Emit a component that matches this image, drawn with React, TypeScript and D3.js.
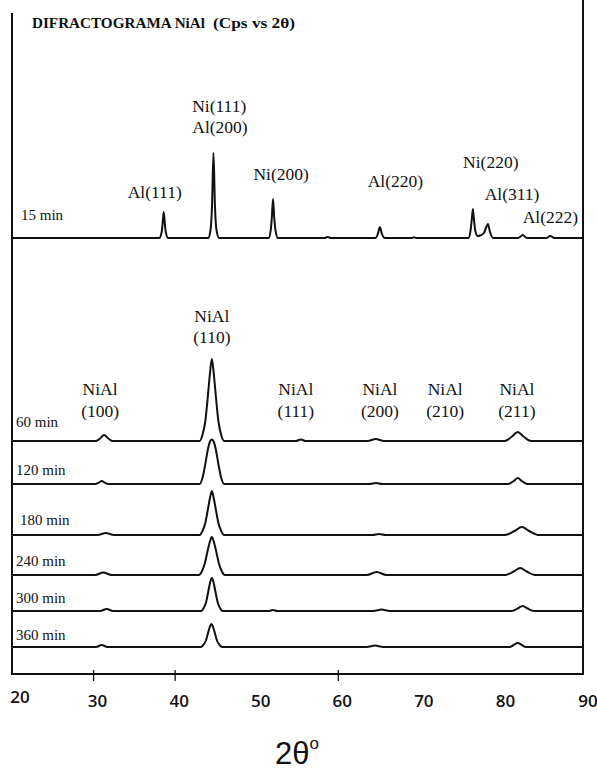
import React from 'react';
import * as d3 from 'd3';

// ---- data ----
const thetaDomain: [number, number] = [20, 90];
const tickLabels = [20, 30, 40, 50, 60, 70, 80, 90];
const tickMarks = [30, 40, 60];
const scanTimes = ['15 min', '60 min', '120 min', '180 min', '240 min', '300 min', '360 min'];

// intensities in Cps (arbitrary scale), [2θ, Cps]
const scan15: [number, number][] = [
  [20, 0], [38.05, 0], [38.35, 60], [38.47, 150], [38.6, 260], [38.73, 150], [38.85, 60], [39.15, 0],
  [44.05, 0], [44.35, 90], [44.52, 320], [44.7, 850], [44.88, 320], [45.05, 90], [45.4, 0],
  [51.45, 0], [51.72, 80], [51.85, 200], [52.0, 390], [52.15, 200], [52.3, 80], [52.6, 0],
  [58.3, 0], [58.7, 10], [59.1, 0],
  [64.55, 0], [64.85, 40], [65.1, 110], [65.35, 40], [65.7, 0],
  [69.0, 0], [69.3, 8], [69.6, 0],
  [75.95, 0], [76.22, 80], [76.36, 180], [76.5, 290], [76.64, 180], [76.8, 70], [77.1, 20], [77.4, 25],
  [77.85, 50], [78.1, 100], [78.35, 140], [78.6, 60], [79.0, 0],
  [82.0, 0], [82.35, 15], [82.6, 30], [82.85, 15], [83.2, 0],
  [85.5, 0], [86.0, 20], [86.5, 0],
  [90, 0],
];

const scan60: [number, number][] = [
  [20, 0], [30.3, 0], [30.8, 25], [31.3, 60], [31.8, 25], [32.3, 0],
  [43.0, 0], [43.35, 60], [43.7, 200], [44.0, 440], [44.25, 660], [44.5, 820], [44.75, 660], [45.0, 440], [45.3, 200], [45.65, 60], [46.0, 0],
  [54.8, 0], [55.4, 15], [56.0, 0],
  [63.6, 0], [64.6, 20], [65.6, 0],
  [80.4, 0], [81.3, 45], [82.0, 90], [82.7, 45], [83.6, 0],
  [90, 0],
];

const scan120: [number, number][] = [
  [20, 0], [30.2, 0], [30.6, 12], [31.0, 30], [31.4, 12], [31.8, 0],
  [43.0, 0], [43.35, 60], [43.7, 200], [44.0, 340], [44.25, 420], [44.5, 445], [44.75, 420], [45.0, 340], [45.3, 200], [45.65, 60], [46.0, 0],
  [63.8, 0], [64.6, 10], [65.4, 0],
  [80.8, 0], [81.5, 30], [82.0, 60], [82.5, 30], [83.2, 0],
  [90, 0],
];

const scan180: [number, number][] = [
  [20, 0], [30.5, 0], [31.5, 20], [32.5, 0],
  [43.0, 0], [43.35, 40], [43.7, 120], [44.0, 250], [44.25, 360], [44.5, 440], [44.75, 360], [45.0, 250], [45.3, 120], [45.65, 40], [46.0, 0],
  [64.2, 0], [65.0, 10], [65.8, 0],
  [80.4, 0], [81.6, 40], [82.5, 80], [83.4, 40], [84.6, 0],
  [90, 0],
];

const scan240: [number, number][] = [
  [20, 0], [30.2, 0], [31.2, 25], [32.2, 0],
  [42.9, 0], [43.3, 40], [43.65, 120], [43.95, 230], [44.25, 330], [44.5, 380], [44.75, 330], [45.05, 230], [45.35, 120], [45.7, 40], [46.1, 0],
  [63.5, 0], [64.7, 30], [65.9, 0],
  [80.5, 0], [81.5, 35], [82.3, 70], [83.1, 35], [84.1, 0],
  [90, 0],
];

const scan300: [number, number][] = [
  [20, 0], [30.8, 0], [31.6, 20], [32.4, 0],
  [43.2, 0], [43.5, 30], [43.8, 90], [44.05, 190], [44.3, 290], [44.5, 330], [44.7, 290], [44.95, 190], [45.2, 90], [45.5, 30], [45.8, 0],
  [51.5, 0], [52.0, 10], [52.5, 0],
  [64.3, 0], [65.3, 15], [66.3, 0],
  [81.3, 0], [82.0, 25], [82.6, 50], [83.2, 25], [84.0, 0],
  [90, 0],
];

const scan360: [number, number][] = [
  [20, 0], [30.3, 0], [31.0, 20], [31.7, 0],
  [43.15, 0], [43.45, 20], [43.75, 60], [44.0, 130], [44.25, 200], [44.45, 230], [44.65, 200], [44.9, 130], [45.15, 60], [45.45, 20], [45.75, 0],
  [63.5, 0], [64.5, 15], [65.5, 0],
  [81.0, 0], [81.5, 20], [82.0, 40], [82.5, 20], [83.0, 0],
  [90, 0],
];

const scans = [scan15, scan60, scan120, scan180, scan240, scan300, scan360];

const phaseLabels15 = ['Al(111)', 'Ni(111)', 'Al(200)', 'Ni(200)', 'Al(220)', 'Ni(220)', 'Al(311)', 'Al(222)'];
const phasePos15 = [37.5, 45.4, 45.5, 53.0, 67.0, 78.7, 81.3, 86.0];
const nialPlanes = ['(100)', '(110)', '(111)', '(200)', '(210)', '(211)'];
const nialPos = [30.8, 44.5, 54.8, 65.1, 73.1, 81.9];

export default function App() {
  const W = 597;
  const H = 775;
  const left = 12;
  const right = 583;
  const bottom = 674;

  const x = d3.scaleLinear().domain(thetaDomain).range([left, right]);
  const y = d3.scaleLinear().domain([0, 1000]).range([0, 100]);

  const baselines = [238, 441, 484, 535, 575, 611, 647];
  const timeLabelPos = [
    [21, 220], [16, 427], [16, 475], [20, 525], [16, 566], [16, 603], [16, 640],
  ];
  const phaseLabelY = [198, 112, 133, 180, 187, 168, 200, 223];
  const nialY = [[395, 417], [322, 343], [395, 417], [395, 417], [395, 417], [395, 417]];

  const serif = '"Liberation Serif", "Times New Roman", serif';
  const ink = '#111';

  const paths = scans.map((s, i) => {
    const b = baselines[i];
    const line = d3
      .line<[number, number]>()
      .x((d) => x(d[0]))
      .y((d) => b - y(d[1]))
      .curve(d3.curveMonotoneX);
    return line(s) || '';
  });

  return (
    <svg
      width={W}
      height={H}
      style={{ position: 'absolute', left: 0, top: 0, background: '#fff' }}
      xmlns="http://www.w3.org/2000/svg"
    >
      <rect x={0} y={0} width={W} height={H} fill="#fff" />
      {/* frame */}
      <line x1={left} y1={13} x2={left} y2={bottom + 1} stroke={ink} strokeWidth={2} />
      <line x1={right} y1={0} x2={right} y2={bottom + 1} stroke={ink} strokeWidth={2} />
      <line x1={left} y1={bottom} x2={right} y2={bottom} stroke={ink} strokeWidth={2} />
      {tickMarks.map((t) => (
        <line key={t} x1={x(t)} y1={bottom - 4} x2={x(t)} y2={bottom + 7} stroke={ink} strokeWidth={1.3} />
      ))}
      {tickLabels.map((t) => (
        <text
          key={t}
          x={t === 90 ? x(t) + 5 : t === 20 ? x(t) + 8 : x(t) + 4}
          y={t === 20 ? 703 : 707}
          textAnchor="middle"
          fontFamily='"Open Sans", "Liberation Sans", sans-serif'
          fontWeight={600}
          fontSize={17}
          fill={ink}
        >
          {t}
        </text>
      ))}
      <text x={297} y={764} textAnchor="middle" fontFamily='"Liberation Sans", Arial, sans-serif' fontSize={31} fill={ink}>
        2θ
        <tspan fontSize={17} dy={-15}>o</tspan>
      </text>

      {/* title */}
      <text x={32} y={28} fontFamily={serif} fontWeight="bold" fontSize={15} fill={ink} textLength={173} lengthAdjust="spacingAndGlyphs">
        DIFRACTOGRAMA NiAl
      </text>
      <text x={213} y={28} fontFamily={serif} fontWeight="bold" fontSize={15} fill={ink} textLength={82} lengthAdjust="spacingAndGlyphs">
        (Cps vs 2θ)
      </text>

      {/* traces */}
      {paths.map((p, i) => (
        <path key={i} d={p} fill="none" stroke={ink} strokeWidth={2} strokeLinejoin="round" />
      ))}

      {/* time labels */}
      {scanTimes.map((t, i) => (
        <text key={t} x={timeLabelPos[i][0]} y={timeLabelPos[i][1]} fontFamily={serif} fontSize={15} fill={ink}>
          {t}
        </text>
      ))}

      {/* phase labels 15 min */}
      {phaseLabels15.map((t, i) => (
        <text key={t} x={x(phasePos15[i])} y={phaseLabelY[i]} textAnchor="middle" fontFamily={serif} fontSize={17.5} fill={ink}>
          {t}
        </text>
      ))}

      {/* NiAl labels */}
      {nialPlanes.map((t, i) => (
        <g key={t}>
          <text x={x(nialPos[i])} y={nialY[i][0]} textAnchor="middle" fontFamily={serif} fontSize={17.5} fill={ink}>
            NiAl
          </text>
          <text x={x(nialPos[i])} y={nialY[i][1]} textAnchor="middle" fontFamily={serif} fontSize={17.5} fill={ink}>
            {t}
          </text>
        </g>
      ))}
    </svg>
  );
}
